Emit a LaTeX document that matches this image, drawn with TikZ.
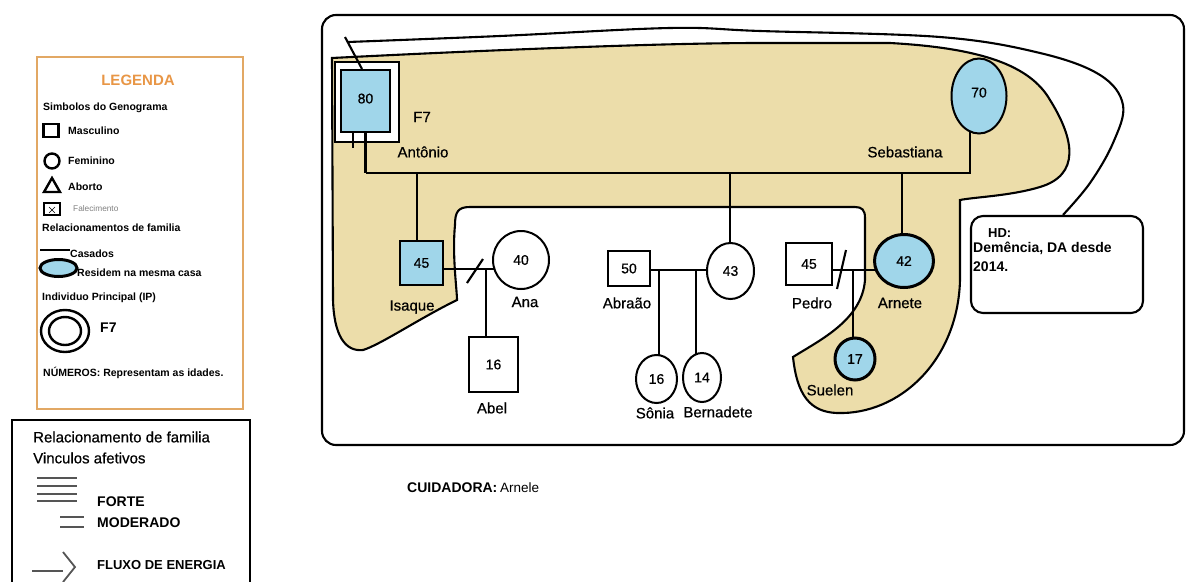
\documentclass[tikz,border=0pt]{standalone}
\usepackage{fontspec}
\setmainfont{Liberation Sans}
\newfontfamily\semib[FakeBold=0.6]{Liberation Sans}
\usetikzlibrary{shapes.geometric}
\pgfdeclarelayer{bg}
\pgfdeclarelayer{mid}
\pgfsetlayers{bg,mid,main}
\definecolor{pblue}{RGB}{160,214,234}
\definecolor{beige}{RGB}{236,221,170}
\definecolor{lorange}{RGB}{226,168,100}
\definecolor{ltitle}{RGB}{232,150,70}
\definecolor{lgray}{RGB}{85,85,85}
\begin{document}
\begin{tikzpicture}[x=1pt,y=-1pt,
  person/.style={draw, line width=2pt, inner sep=0pt, font=\semib\fontsize{14}{16}\selectfont, fill=white},
  sq/.style={person, rectangle},
  ci/.style={person, ellipse},
  ip/.style={fill=pblue},
  thickb/.style={line width=3pt},
  lbl/.style={inner sep=0pt, font=\semib\fontsize{15}{18}\selectfont},
  lk/.style={line width=2.1pt},
  legt/.style={anchor=west, inner sep=0pt, font=\bfseries\fontsize{10.5}{12}\selectfont},
  leg2/.style={anchor=west, inner sep=0pt, font=\semib\fontsize{15}{18}\selectfont},
  leg2b/.style={anchor=west, inner sep=0pt, font=\bfseries\fontsize{14}{16}\selectfont},
]
\useasboundingbox (0,0) rectangle (1186,581);

% ---------- Legend 1 ----------
\draw[lorange, line width=2.2pt] (37,57) rectangle (243,409);
\node[inner sep=0pt, text=ltitle, font=\bfseries\fontsize{15}{17}\selectfont] (ltit) at (138,80) {LEGENDA};
\node[legt] (ls1) at (43,108) {Simbolos do Genograma};
\node[draw, line width=2.4pt, minimum width=15, minimum height=13, inner sep=0pt] (lsq) at (51,130.5) {};
\node[legt] (lmas) at (68,131) {Masculino};
\node[draw, circle, line width=2.4pt, minimum size=15, inner sep=0pt] (lci) at (52,161) {};
\node[legt] (lfem) at (68,161) {Feminino};
\draw[line width=2.4pt] (44,192) -- (52,178) -- (60,192) -- cycle;
\node[legt] (labo) at (68,187) {Aborto};
\node[draw, line width=1.5pt, minimum width=16, minimum height=12, inner sep=0pt] (lfal) at (52,209) {};
\draw[line width=0.6pt] (49,207) -- (55,213) (49,213) -- (55,207);
\node[anchor=west, inner sep=0pt, text=gray, font=\fontsize{8.3}{9}\selectfont] (lfalt) at (73,209) {Falecimento};
\node[legt] (lrel) at (42,228) {Relacionamentos de familia};
\draw[line width=2.4pt] (40,250) -- (70,250);
\node[legt] (lcas) at (70,254) {Casados};
\node[draw, ellipse, line width=3pt, fill=pblue, minimum width=37, minimum height=17, inner sep=0pt] (lell) at (58.5,268) {};
\node[legt] (lres) at (77,273) {Residem na mesma casa};
\node[legt] (lind) at (42,298) {Individuo Principal (IP)};
\node[draw, ellipse, line width=2.4pt, minimum width=48, minimum height=42, inner sep=0pt] (lip1) at (65,331) {};
\node[draw, ellipse, line width=2.4pt, minimum width=32, minimum height=28, inner sep=0pt] (lip2) at (65,331) {};
\node[anchor=west, inner sep=0pt, font=\bfseries\fontsize{14}{16}\selectfont] (lf7) at (100,328) {F7};
\node[legt] (lnum) at (43,373) {NÚMEROS: Representam as idades.};

% ---------- Legend 2 ----------
\draw[line width=2pt] (12,420) rectangle (250,600);
\node[leg2] (l2a) at (33,437) {Relacionamento de familia};
\node[leg2] (l2b) at (33,458) {Vinculos afetivos};
\foreach \yy in {478,486,494,501} \draw[lgray, line width=2pt] (37,\yy) -- (77,\yy);
\foreach \yy in {517,527} \draw[lgray, line width=2pt] (60,\yy) -- (84,\yy);
\node[leg2b] (l2f) at (97,502) {FORTE};
\node[leg2b] (l2m) at (97,523) {MODERADO};
\draw[lgray, line width=1.8pt] (32,571) -- (63,571);
\draw[lgray, line width=1.8pt] (63,552) -- (75,567) -- (63,582);
\node[anchor=west, inner sep=0pt, font=\bfseries\fontsize{13}{15}\selectfont] (l2e) at (97,565) {FLUXO DE ENERGIA};

% ---------- Main frame ----------
\draw[lk, rounded corners=14] (322,15) rectangle (1184,445);

% ---------- Household region ----------
\begin{pgfonlayer}{bg}
\draw[lk, fill=beige] (332,58) .. controls (450,52) and (650,43) .. (760,43)
  -- (890,43)
  .. controls (980,48) and (1030,65) .. (1050,100)
  .. controls (1075,140) and (1080,175) .. (1040,187)
  .. controls (1010,196) and (975,197) .. (960,200)
  -- (960,280)
  .. controls (958,360) and (900,415) .. (837,413)
  .. controls (810,412) and (797,395) .. (793,357)
  .. controls (820,340) and (862,320) .. (865,280)
  -- (865,218)
  .. controls (865,210) and (862,207) .. (855,207)
  -- (470,207)
  .. controls (458,207) and (455,212) .. (455,225)
  .. controls (452,255) and (457,290) .. (457,300)
  .. controls (420,318) and (380,345) .. (363,350)
  .. controls (345,352) and (334,335) .. (333,300)
  -- cycle;
\end{pgfonlayer}

% ---------- People ----------
\node[sq, minimum width=64, minimum height=80] (antout) at (367,102) {};
\node[sq, ip, minimum width=49, minimum height=62] (ant) at (365.5,101) {\raisebox{5pt}{80}};
\node[ci, ip, minimum width=55, minimum height=75] (seb) at (979,96) {\raisebox{7pt}{70}};
\node[sq, ip, minimum width=43, minimum height=44] (isa) at (421.5,263) {45};
\node[ci, minimum width=56, minimum height=58] (ana) at (521,260) {40};
\node[sq, minimum width=49, minimum height=55] (abel) at (493.5,364.5) {16};
\node[sq, minimum width=42, minimum height=35] (abr) at (629,268.5) {50};
\node[ci, minimum width=47, minimum height=56] (f43) at (730.5,271) {43};
\node[ci, minimum width=41, minimum height=48] (son) at (656.5,379) {16};
\node[ci, minimum width=38, minimum height=49] (ber) at (702,377.5) {14};
\node[sq, minimum width=46, minimum height=42] (ped) at (809,264) {45};
\node[ci, ip, thickb, minimum width=59, minimum height=53] (arn) at (904,261) {42};
\node[ci, ip, thickb, minimum width=40, minimum height=42] (sue) at (855,359) {17};

% ---------- Labels ----------
\node[lbl] (lf7d) at (422,117) {F7};
\node[lbl] (lant) at (423,152) {Antônio};
\node[lbl] (lseb) at (905,152) {Sebastiana};
\node[lbl] (lisa) at (412,307) {Isaque};
\node[lbl] (lana) at (525,302) {Ana};
\node[lbl] (label) at (492,408) {Abel};
\node[lbl] (labr) at (627,303) {Abraão};
\node[lbl] (lson) at (655,413) {Sônia};
\node[lbl] (lber) at (718,412) {Bernadete};
\node[lbl] (lped) at (812,303) {Pedro};
\node[lbl] (larn) at (900,303) {Arnete};
\node[lbl] (lsue) at (830,390) {Suelen};

% ---------- HD note ----------
\node[draw, lk, rounded corners=12, minimum width=172, minimum height=97, fill=white] (hd) at (1057,264.5) {};
\node[anchor=west, inner sep=0pt, font=\bfseries\fontsize{13}{15}\selectfont] (hdl) at (988,233) {HD:};
\node[anchor=north west, align=left, inner sep=0pt, font=\bfseries\fontsize{14}{19}\selectfont] (hdtx) at (973,242) {Demência, DA desde\\2014.};

\node[anchor=west, inner sep=0pt] (cuid) at (407,488) {{\bfseries\fontsize{14}{16}\selectfont CUIDADORA:} {\fontsize{13.5}{16}\selectfont Arnele}};

% ---------- Connectors ----------
\coordinate (mL) at (365,173);
\coordinate (mR) at (970,173);
\coordinate (dI) at (417,173);
\coordinate (dF) at (730,173);
\coordinate (dA) at (902,173);
\coordinate (cI) at (486,269);
\coordinate (cS) at (659,270);
\coordinate (cB) at (696,270);
\coordinate (cP) at (853,270);
\coordinate (s1a) at (467,283);
\coordinate (s1b) at (483,259);
\coordinate (s2a) at (837,289);
\coordinate (s2b) at (846,250);
\coordinate (tk1) at (345,37);
\coordinate (st1) at (353,132);
\coordinate (st2) at (353,148);

\begin{pgfonlayer}{mid}
\draw[lk] (ant.south |- mL) -- (mR) -- (mR |- seb.center);
\draw[lk] (dI) -- (dI |- isa.center);
\draw[lk] (dF) -- (dF |- f43.center);
\draw[lk] (dA) -- (dA |- arn.center);
\draw[lk] (isa.center |- cI) -- (ana.center |- cI);
\draw[lk] (cI) -- (cI |- abel.center);
\draw[lk] (abr.center |- cS) -- (f43.center |- cS);
\draw[lk] (cS) -- (cS |- son.center);
\draw[lk] (cB) -- (cB |- ber.center);
\draw[lk] (ped.center |- cP) -- (arn.center |- cP);
\draw[lk] (cP) -- (cP |- sue.center);
\draw[lk] plot[smooth, tension=0.6] coordinates {(348,42) (500,36) (670,28) (760,31) (940,37) (1040,53) (1100,75) (1123,105) (1113,143) (1090,183) ([xshift=6pt]hd.north)};
\end{pgfonlayer}

\draw[lk] (ant.south) -- (ant.south |- mL);
\draw[lk] (st1) -- (st2);
\draw[lk] (tk1) -- (ant.north -| 362,0);
\draw[lk] (s1a) -- (s1b);
\draw[lk] (s2a) -- (s2b);
\end{tikzpicture}
\end{document}
